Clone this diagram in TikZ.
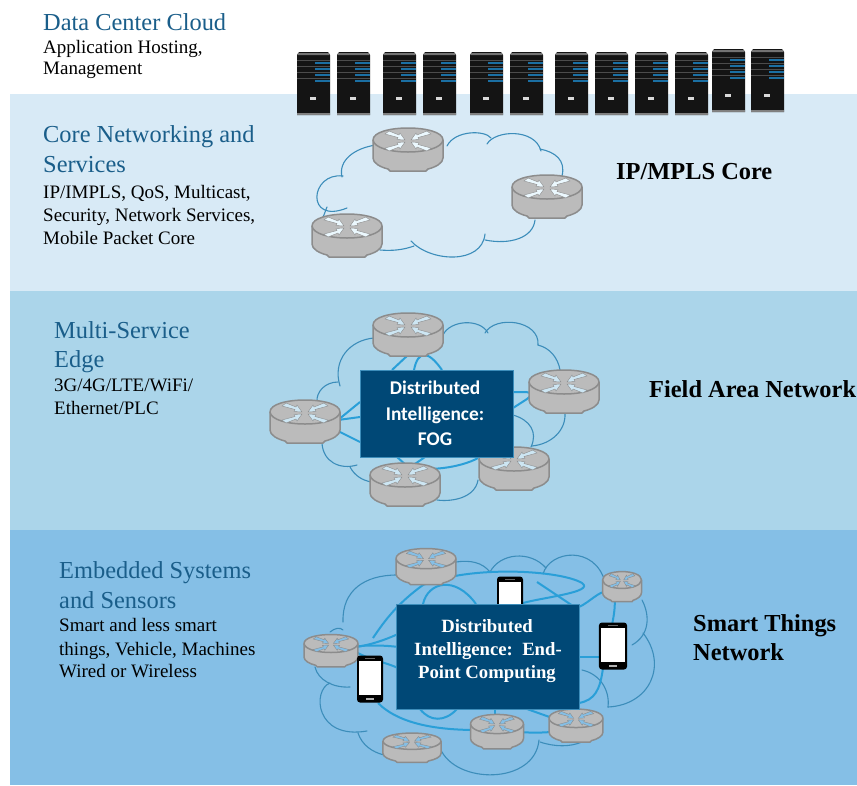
\documentclass[tikz,border=0pt]{standalone}
\usepackage{fontspec}
\usetikzlibrary{calc}
\setmainfont{Liberation Serif}
\newfontfamily\boxfont{Carlito}
\definecolor{bandA}{HTML}{D8EAF6}
\definecolor{bandB}{HTML}{ABD5EA}
\definecolor{bandC}{HTML}{85BFE6}
\definecolor{head}{HTML}{1A5E8A}
\definecolor{navy}{HTML}{004876}
\definecolor{cloudline}{HTML}{3C8DBA}
\definecolor{link}{HTML}{2A9FD8}
\definecolor{rfill}{HTML}{BBBBBB}
\definecolor{rline}{HTML}{8C8C8C}
\definecolor{stripe}{HTML}{1B6FA3}
\tikzset{
  x=1pt,y=-1pt,
  heading/.style={anchor=base west,inner sep=0pt,text=head,font=\fontsize{24.4}{28}\selectfont},
  detail/.style={anchor=base west,inner sep=0pt,text=black,font=\fontsize{19}{22}\selectfont},
  tier/.style={anchor=base west,inner sep=0pt,text=black,font=\bfseries\fontsize{24.4}{28}\selectfont},
  cloudarc/.style={draw=cloudline,line width=1.1pt,fill=none,line cap=round},
  linkline/.style={draw=link,line width=2pt,fill=none,line join=round},
  centrebox/.style={draw=cloudline,line width=.6pt,fill=navy,text=white,align=center,inner sep=0pt},
  boxline/.style={anchor=base,inner sep=0pt,text=white},
  pics/router/.style={code={
    \path[fill=rfill,draw=rline,line width=1.5pt,line join=round]
      (-35,-10) -- (-35,8) .. controls (-35,13) and (-28,17) .. (-20,19)
      -- (-18,21) -- (18,21) -- (20,19) .. controls (28,17) and (35,13) .. (35,8) -- (35,-10)
      .. controls (35,-26) and (-35,-26) .. (-35,-10) -- cycle;
    \draw[rline,line width=1.5pt] (-35,-10) .. controls (-33,6) and (33,6) .. (35,-10);
    \foreach \s/\t in {1/1,-1/1,1/-1,-1/-1}{
      \fill[#1,draw=rline,line width=.4pt,xscale=\s,yscale=\t,shift={(0,-\t*9)}]
        (3,-1) -- (11,-1.5) -- (10,-3.5) -- (23,-7) -- (19,-10) -- (9,-6) -- (8,-8) -- cycle;
    }
  }},
  pics/serverunit/.style={code={
    \fill[black!92] (0,3) -- (2,0) -- (31,0) -- (33,3) -- (33,63) -- (0,63) -- cycle;
    \fill[black!55] (1,1) -- (32,1) -- (32.5,3) -- (.5,3) -- cycle;
    \foreach \h in {11,17,23,29}{
      \draw[black!70,line width=.4pt] (0,\h-2.5) -- (33,\h-2.5);
      \fill[stripe] (18,\h-.8) rectangle (33,\h+.8);
    }
    \fill[black!15] (13,44.5) rectangle (19,48);
    \fill[black!50] (0,61) rectangle (33,63);
  }},
  pics/phone/.style={code={
    \fill[black,rounded corners=3pt] (-13,-23.5) rectangle (13,23.5);
    \fill[white] (-11,-18) rectangle (11,16);
    \fill[black!60] (-5,-21.2) rectangle (5,-20.2);
    \fill[black!30] (-4,18.5) rectangle (4,21);
  }}
}
\begin{document}
\begin{tikzpicture}
\useasboundingbox (0,0) rectangle (857,785);
\fill[white] (0,0) rectangle (857,785);
\fill[bandA] (10,94) rectangle (857,291);
\fill[bandB] (10,291) rectangle (857,530);
\fill[bandC] (10,530) rectangle (857,785);

% servers
\foreach \x/\y in {297/52,337/52,383/52,423/52,470/52,510/52,555/52,595/52,635/52,675/52,712/49,751/49}
  \pic at (\x,\y) {serverunit};

% router positions
\coordinate (c1a) at (408,150); \coordinate (c1b) at (547,197); \coordinate (c1c) at (347,236);
\coordinate (c2a) at (408,335); \coordinate (c2b) at (564,392); \coordinate (c2c) at (305,422);
\coordinate (c2d) at (405,485); \coordinate (c2e) at (514,469);
\coordinate (c3a) at (426,567); \coordinate (c3b) at (622,587); \coordinate (c3c) at (331,651);
\coordinate (c3d) at (412,748); \coordinate (c3e) at (497,732); \coordinate (c3f) at (576,726);
\coordinate (ph1) at (370,679); \coordinate (ph2) at (613,646); \coordinate (ph3) at (510,600);

% cloud 1
\path[cloudarc] (376,145) .. controls (355,148) and (338,160) .. (342,177);
\path[cloudarc] (343,176) .. controls (310,172) and (305,225) .. (347,208);
\path[cloudarc] (327,207) .. controls (326,209) and (325,213) .. (323,217);
\path[cloudarc] (380,250) .. controls (392,251) and (403,250) .. (414,246);
\path[cloudarc] (411,241) .. controls (430,262) and (482,265) .. (485,234);
\path[cloudarc] (485,240) .. controls (510,245) and (533,238) .. (535,220);
\path[cloudarc] (562,176) .. controls (566,160) and (555,152) .. (540,149);
\path[cloudarc] (541,151) .. controls (535,128) and (495,130) .. (487,144);
\path[cloudarc] (491,138) .. controls (485,130) and (455,130) .. (447,146);

% cloud 2
\path[cloudarc] (374,338) .. controls (350,340) and (332,360) .. (340,386);
\path[cloudarc] (338,382) .. controls (325,382) and (316,392) .. (317,402);
\path[cloudarc] (322,443) .. controls (323,462) and (340,470) .. (357,465);
\path[cloudarc] (350,467) .. controls (355,476) and (362,480) .. (371,482);
\path[cloudarc] (437,500) .. controls (452,502) and (475,498) .. (478,480);
\path[cloudarc] (532,446) .. controls (552,444) and (566,430) .. (565,413);
\path[cloudarc] (560,370) .. controls (558,358) and (550,348) .. (538,345);
\path[cloudarc] (538,345) .. controls (540,320) and (495,315) .. (485,333);
\path[cloudarc] (488,333) .. controls (480,318) and (450,320) .. (443,335);
\path[cloudarc] (513,415) .. controls (530,420) and (538,432) .. (531,447);

% cloud 3
\path[cloudarc] (397,575) .. controls (365,575) and (342,590) .. (343,622);
\path[cloudarc] (343,630) .. controls (340,627) and (335,628) .. (330,632);
\path[cloudarc] (315,667) .. controls (318,680) and (333,688) .. (350,687);
\path[cloudarc] (330,683) .. controls (312,690) and (315,740) .. (367,731);
\path[cloudarc] (358,733) .. controls (362,745) and (372,752) .. (384,755);
\path[cloudarc] (440,748) .. controls (455,785) and (535,785) .. (539,740);
\path[cloudarc] (540,742) .. controls (555,747) and (570,747) .. (582,742);
\path[cloudarc] (582,670) .. controls (600,674) and (610,690) .. (608,707);
\path[cloudarc] (608,707) .. controls (650,705) and (668,665) .. (643,633);
\path[cloudarc] (632,645) .. controls (650,635) and (650,615) .. (642,600);
\path[cloudarc] (605,582) .. controls (595,545) and (550,550) .. (543,574);
\path[cloudarc] (546,568) .. controls (530,550) and (500,553) .. (490,572);
\path[cloudarc] (490,572) .. controls (482,562) and (470,560) .. (456,562);

% connectors fog
\path[linkline] (408,355) -- (392,370);
\path[linkline] (414,370) .. controls (418,350) and (428,350) .. (442,370);
\path[linkline] (338,420) -- (360,402);
\path[linkline] (338,420) -- (360,417);
\path[linkline] (338,431) -- (360,442);
\path[linkline] (513,392) -- (526,392) .. controls (532,392) and (532,396) .. (527,399) -- (513,408);
\path[linkline] (397,457) -- (407,466);
\path[linkline] (425,457) -- (412,466);
\path[linkline] (412,466) .. controls (425,472) and (460,468) .. (478,458);

% connectors end-point
\path[linkline] (373,638) .. controls (385,620) and (398,603) .. (423,585) .. controls (470,565) and (560,570) .. (582,583) .. controls (595,592) and (545,597) .. (523,603);
\path[linkline] (423,604) .. controls (428,582) and (455,575) .. (476,604);
\path[linkline] (537,582) -- (579,610);
\path[linkline] (356,647) .. controls (370,645) and (385,640) .. (398,634);
\path[linkline] (356,647) .. controls (360,645) and (385,645) .. (398,647);
\path[linkline] (356,652) .. controls (370,660) and (385,662) .. (398,668);
\path[linkline] (579,607) .. controls (590,602) and (600,590) .. (607,592) .. controls (618,590) and (615,610) .. (612,625);
\path[linkline] (579,657) -- (600,657);
\path[linkline] (579,703) .. controls (595,700) and (600,690) .. (603,668);
\path[linkline] (378,703) .. controls (400,725) and (440,730) .. (477,730) .. controls (520,732) and (580,738) .. (558,720) -- (527,709);
\path[linkline] (420,709) .. controls (430,722) and (445,722) .. (457,709);
\path[linkline] (495,709) -- (495,716);

% routers
\foreach \c in {c1a,c1b,c1c}
  \pic at (\c) {router=white!92!cyan};
\foreach \c in {c2a,c2b,c2c,c2d,c2e}
  \pic at (\c) {router=bandB!60!white};
\foreach \c/\xs/\ys in {c3a/.857/.84,c3b/.557/.7,c3c/.771/.75,c3d/.829/.68,c3e/.757/.8,c3f/.771/.77}
  \pic[xscale=\xs,yscale=\ys] at (\c) {router=bandC};

% phones
\pic at (ph3) {phone};
\pic at (ph1) {phone};
\pic[xscale=1.08] at (ph2) {phone};

% boxes
\node[centrebox,minimum width=153,minimum height=87] (fog) at (436.5,413.5) {};
\node[boxline,font=\boxfont\bfseries\fontsize{19.4}{22}\selectfont] (f1) at (435,394) {Distributed};
\node[boxline,font=\boxfont\bfseries\fontsize{19.4}{22}\selectfont] (f2) at (435,420) {Intelligence:};
\node[boxline,font=\boxfont\bfseries\fontsize{19.4}{22}\selectfont] (f3) at (435,445) {FOG};
\node[centrebox,minimum width=183,minimum height=105] (edge) at (487.5,656.5) {};
\node[boxline,font=\bfseries\fontsize{18.7}{22}\selectfont] (e1) at (487,632) {Distributed};
\node[boxline,font=\bfseries\fontsize{18.7}{22}\selectfont] (e2) at (488,655) {Intelligence:\ \ End-};
\node[boxline,font=\bfseries\fontsize{18.7}{22}\selectfont] (e3) at (487,678) {Point Computing};

% text
\node[heading] (t1) at (43,30) {Data Center Cloud};
\node[detail] (t2) at (43,53) {Application Hosting,};
\node[detail] (t3) at (43,74) {Management};
\node[heading] (t4) at (43,142) {Core Networking and};
\node[heading] (t5) at (43,172) {Services};
\node[detail] (t6) at (43,198) {IP/IMPLS, QoS, Multicast,};
\node[detail] (t7) at (43,221) {Security, Network Services,};
\node[detail] (t8) at (43,244) {Mobile Packet Core};
\node[heading] (t9) at (54,338) {Multi-Service};
\node[heading] (t10) at (54,367) {Edge};
\node[detail] (t11) at (54,391) {3G/4G/LTE/WiFi/};
\node[detail] (t12) at (54,414) {Ethernet/PLC};
\node[heading] (t13) at (59,578) {Embedded Systems};
\node[heading] (t14) at (59,608) {and Sensors};
\node[detail] (t15) at (59,631) {Smart and less smart};
\node[detail] (t16) at (59,655) {things, Vehicle, Machines};
\node[detail] (t17) at (59,677) {Wired or Wireless};
\node[tier] (t18) at (616,179) {IP/MPLS Core};
\node[tier] (t19) at (649,397) {Field Area Network};
\node[tier] (t20) at (693,631) {Smart Things};
\node[tier] (t21) at (693,660) {Network};
\end{tikzpicture}
\end{document}
